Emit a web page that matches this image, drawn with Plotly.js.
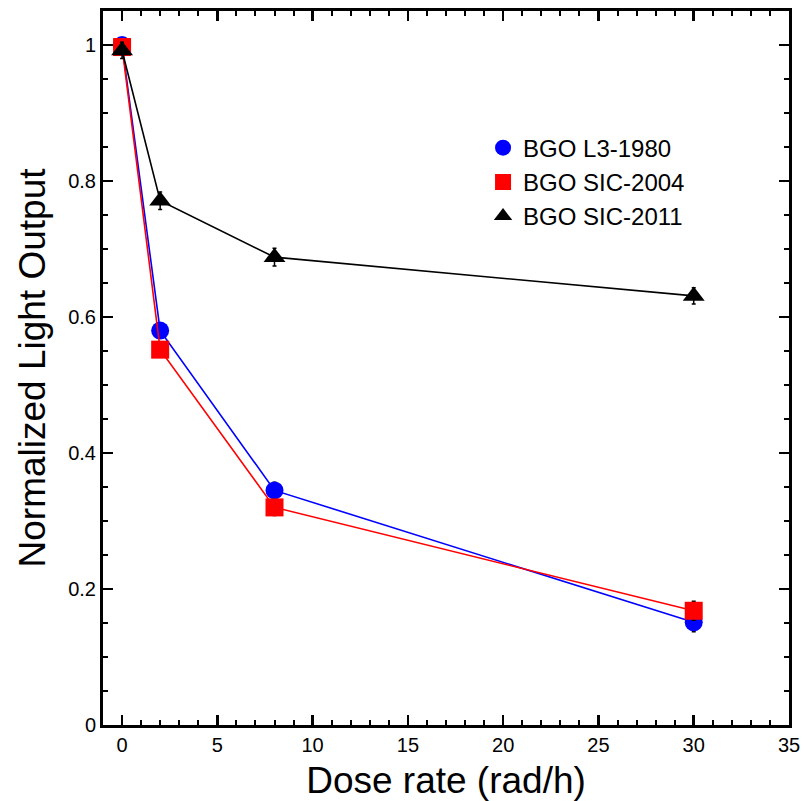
<!DOCTYPE html>
<html>
<head>
<meta charset="utf-8">
<script src="https://cdn.plot.ly/plotly-3.0.1.min.js"></script>
<style>html,body{margin:0;padding:0;background:#fff;}#chart{width:804px;height:801px;}</style>
</head>
<body>
<div id="chart"></div>
<script>
var doseRate = [0, 2, 8, 30];
var seriesNames = ["BGO L3-1980", "BGO SIC-2004", "BGO SIC-2011"];
var l3_1980 = [1.0, 0.580, 0.345, 0.151];
var sic2004 = [0.997, 0.552, 0.320, 0.168];
var sic2011 = [0.992, 0.771, 0.688, 0.631];
var err_l3 = [0.01, 0.01, 0.012, 0.014];
var err_2004 = [0.01, 0.01, 0.012, 0.014];
var err_2011 = [0.012, 0.013, 0.013, 0.012];

var colors = ["#0000ff", "#ff0000", "#000000"];
var symbols = ["circle", "square", "triangle-up"];
var ys = [l3_1980, sic2004, sic2011];
var errs = [err_l3, err_2004, err_2011];
var sizes = [18, 18, 19];

var traces = [];
for (var i = 0; i < 3; i++) {
  traces.push({
    x: doseRate, y: ys[i], type: "scatter", mode: "lines+markers",
    line: {color: colors[i], width: 1.6},
    marker: {color: colors[i], symbol: symbols[i], size: sizes[i]},
    error_y: {type: "data", array: errs[i], visible: true, color: "#000", thickness: 1.5, width: 2},
    showlegend: false, hoverinfo: "skip"
  });
}
for (var j = 0; j < 3; j++) {
  traces.push({
    x: [null], y: [null], type: "scatter", mode: "markers",
    name: seriesNames[j],
    marker: {color: colors[j], symbol: symbols[j], size: 17}
  });
}

var axisCommon = {
  showline: true, linecolor: "#000", linewidth: 3, mirror: "allticks",
  ticks: "inside", ticklen: 10, tickwidth: 2.5, tickcolor: "#000",
  showgrid: false, zeroline: false,
  tickfont: {family: "Arial, Liberation Sans, sans-serif", size: 20, color: "#000"}
};

var layout = {
  width: 804, height: 801,
  margin: {l: 103, r: 15, t: 11, b: 76},
  paper_bgcolor: "#fff", plot_bgcolor: "#fff",
  xaxis: Object.assign({}, axisCommon, {
    range: [-1, 35], tickvals: [0, 5, 10, 15, 20, 25, 30, 35],
    minor: {dtick: 1, tick0: 0, ticks: "inside", ticklen: 5, tickwidth: 2, tickcolor: "#000"},
    title: {text: "Dose rate (rad/h)", font: {family: "Arial, Liberation Sans, sans-serif", size: 37, color: "#000"}, standoff: 14}
  }),
  yaxis: Object.assign({}, axisCommon, {
    range: [0, 1.05], tickvals: [0, 0.2, 0.4, 0.6, 0.8, 1],
    minor: {dtick: 0.05, tick0: 0, ticks: "inside", ticklen: 5, tickwidth: 2, tickcolor: "#000"},
    title: {text: "Normalized Light Output", font: {family: "Arial, Liberation Sans, sans-serif", size: 37, color: "#000"}, standoff: 12}
  }),
  legend: {
    x: 0.554, xanchor: "left", y: 0.8395, yanchor: "top",
    bgcolor: "rgba(0,0,0,0)", borderwidth: 0, tracegroupgap: 0,
    font: {family: "Arial, Liberation Sans, sans-serif", size: 24, color: "#000"}
  },
  showlegend: true
};

Plotly.newPlot("chart", traces, layout, {displayModeBar: false, staticPlot: true});
</script>
</body>
</html>
